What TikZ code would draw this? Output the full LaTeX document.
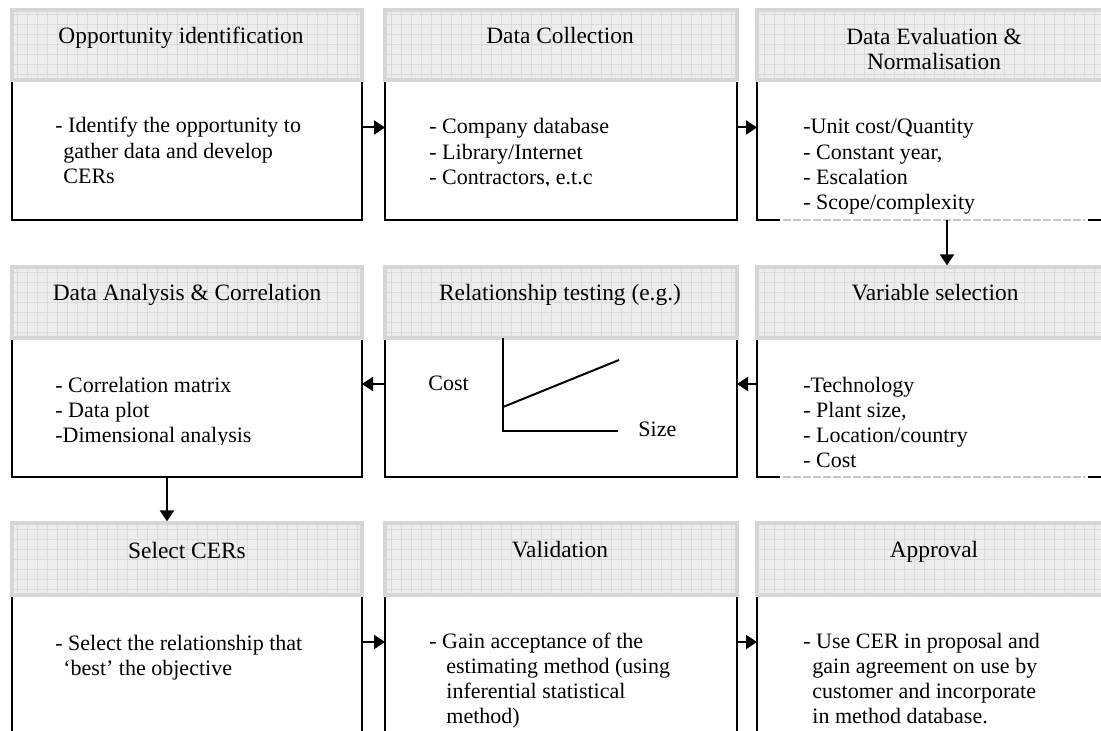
\documentclass[tikz,border=0pt]{standalone}
\usepackage{fontspec}
\setmainfont{Liberation Serif}
\usetikzlibrary{arrows.meta,calc}

\begin{document}
\begin{tikzpicture}[x=0.5pt,y=-0.5pt,
  hdr/.style={draw=gray!32, line width=1.6pt, fill=gray!14, inner sep=0pt,
    path picture={\draw[gray!28, line width=0.5pt, step=5pt]
      (path picture bounding box.south west) grid (path picture bounding box.north east);}},
  body/.style={draw=black, line width=1pt, inner sep=0pt, outer sep=0pt},
  openbody/.style={draw=none, inner sep=0pt, outer sep=0pt},
  edge/.style={draw=black, line width=1pt},
  dashedge/.style={draw=gray!45, line width=0.9pt, dash pattern=on 4pt off 1pt},
  arr/.style={draw=black, line width=1pt, -{Triangle[length=5.5pt,width=7pt]}},
  ttl/.style={font=\fontsize{11.7}{12.6}\selectfont, align=center, anchor=base, inner sep=0pt},
  txt/.style={font=\fontsize{11}{12.65}\selectfont, align=left, anchor=base west, inner sep=0pt},
]
\useasboundingbox (0,0) rectangle (1101,731);
\fill[white] (0,0) rectangle (1101,731);

% ---------- bodies (drawn first, headers overlap their top edge)
\node[body, minimum width=175pt, minimum height=70pt] (b1) at (187,150) {};
\node[body, minimum width=176pt, minimum height=70pt] (b2) at (561,150) {};
\node[openbody, minimum width=177pt, minimum height=70pt] (b3) at (934,150) {};

\node[body, minimum width=175pt, minimum height=69.5pt] (b4) at (187,407.5) {};
\node[body, minimum width=176pt, minimum height=69.5pt] (b5) at (561,407.5) {};
\node[openbody, minimum width=177pt, minimum height=69.5pt] (b6) at (934,407.5) {};

\node[body, minimum width=175pt, minimum height=82.5pt] (b7) at (187,677.5) {};
\node[body, minimum width=176pt, minimum height=82.5pt] (b8) at (561,677.5) {};
\node[body, minimum width=177pt, minimum height=82.5pt] (b9) at (934,677.5) {};

% right-hand column: solid ends, light dashed middle on the bottom edge
\foreach \b in {b3,b6}{
  \draw[edge] (\b.north west) -- (\b.south west) -- ([xshift=11.5pt]\b.south west);
  \draw[dashedge] ([xshift=13pt]\b.south west) -- ([xshift=164pt]\b.south west);
  \draw[edge] ([xshift=165.5pt]\b.south west) -- (\b.south east) -- (\b.north east);
}

% ---------- headers
\node[hdr, minimum width=175pt, minimum height=35pt] (h1) at (187,45) {};
\node[hdr, minimum width=176pt, minimum height=35pt] (h2) at (561,45) {};
\node[hdr, minimum width=177pt, minimum height=35pt] (h3) at (934,45) {};
\node[hdr, minimum width=175pt, minimum height=35.5pt] (h4) at (187,302.5) {};
\node[hdr, minimum width=176pt, minimum height=35.5pt] (h5) at (561,302.5) {};
\node[hdr, minimum width=177pt, minimum height=35.5pt] (h6) at (934,302.5) {};
\node[hdr, minimum width=175pt, minimum height=36pt] (h7) at (187,559) {};
\node[hdr, minimum width=176pt, minimum height=36pt] (h8) at (561,559) {};
\node[hdr, minimum width=177pt, minimum height=36pt] (h9) at (934,559) {};

% ---------- header titles (multi-line nodes sit on their last baseline)
\node[ttl] (l1) at (181,43.5) {Opportunity identification};
\node[ttl] (l2) at (560,43.5) {Data Collection};
\node[ttl] (l3) at (934,70) {Data Evaluation \&\\Normalisation};
\node[ttl] (l4) at (187,300.5) {Data Analysis \& Correlation};
\node[ttl] (l5) at (560,300.5) {Relationship testing (e.g.)};
\node[ttl] (l6) at (935,300.5) {Variable selection};
\node[ttl] (l7) at (187,558) {Select CERs};
\node[ttl] (l8) at (560,557) {Validation};
\node[ttl] (l9) at (934,557) {Approval};

% ---------- body texts (positions are the last line's baseline)
\node[txt] (t1) at (55,183.6) {- Identify the opportunity to\\\hspace*{4pt}gather data and develop\\\hspace*{4pt}CERs};
\begin{scope}
  \clip (385,80) rectangle (737,186);
  \node[txt] (t2) at (429,184.6) {- Company database\\- Library/Internet\\- Contractors, e.t.c};
\end{scope}
\node[txt] (t3) at (803,209.9) {-Unit cost/Quantity\\- Constant year,\\- Escalation\\- Scope/complexity};

\begin{scope}
  \clip (12,338) rectangle (362,444);
  \node[txt] (t4) at (55,442.6) {- Correlation matrix\\- Data plot\\-Dimensional analysis};
\end{scope}
\node[txt] (t6) at (803,467.9) {-Technology\\- Plant size,\\- Location/country\\- Cost};

\node[txt] (t7) at (55,675.3) {- Select the relationship that\\\hspace*{4pt}‘best’ the objective};
\node[txt] (t8) at (429,723.9) {- Gain acceptance of the\\\hspace*{8.5pt}estimating method (using\\\hspace*{8.5pt}inferential statistical\\\hspace*{8.5pt}method)};
\node[txt] (t9) at (803,723.9) {- Use CER in proposal and\\\hspace*{4.5pt}gain agreement on use by\\\hspace*{4.5pt}customer and incorporate\\\hspace*{4.5pt}in method database.};

% ---------- cost / size sketch
\coordinate (yax) at (503,338);
\coordinate (org) at (503,431);
\coordinate (xax) at (618,431);
\coordinate (fit0) at (503,407);
\coordinate (fit1) at (619,360);
\draw[edge] (yax) -- (org) -- (xax);
\draw[edge] (fit0) -- (fit1);
\node[txt] (cost) at (428,391) {Cost};
\node[txt] (size) at (638,437) {Size};

% ---------- flow arrows
\draw[arr] ([yshift=-23.75pt]b1.north east) -- ([yshift=-23.75pt]b2.north west);
\draw[arr] ([yshift=-23.75pt]b2.north east) -- ([yshift=-23.75pt]b3.north west);
\draw[arr] ([xshift=6.5pt]b3.south) -- ([xshift=6.5pt]h6.north);
\draw[arr] ([yshift=-23pt]b6.north west) -- ([yshift=-23pt]b5.north east);
\draw[arr] ([yshift=-23pt]b5.north west) -- ([yshift=-23pt]b4.north east);
\draw[arr] ([xshift=-10pt]b4.south) -- ([xshift=-10pt]h7.north);
\draw[arr] ([yshift=-23.5pt]b7.north east) -- ([yshift=-23.5pt]b8.north west);
\draw[arr] ([yshift=-23.5pt]b8.north east) -- ([yshift=-23.5pt]b9.north west);
\end{tikzpicture}
\end{document}
